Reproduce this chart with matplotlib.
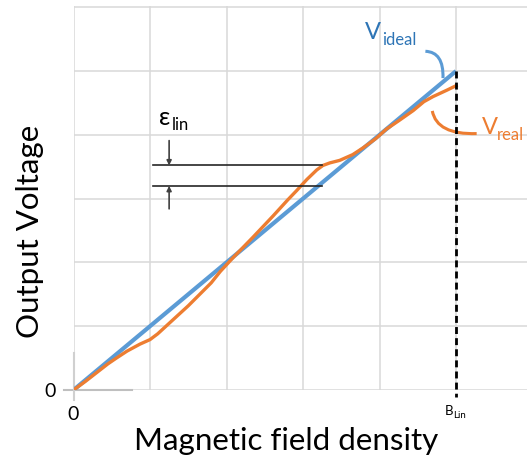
import matplotlib
matplotlib.use("Agg")
import matplotlib.pyplot as plt
from matplotlib.path import Path
from matplotlib.patches import PathPatch

plt.rcParams['font.family'] = ['Lato', 'DejaVu Sans']

W, H = 527, 461

# ideal characteristic: straight line up to B_Lin
ideal_x = [0, 5]
ideal_y = [0, 5]

# real sensor output
real_x = [0, 0.15, 0.3, 0.45, 0.56, 0.7, 0.87, 1.0, 1.1, 1.3, 1.5, 1.65, 1.8, 1.92,
          2.09, 2.35, 2.61, 2.8, 2.92, 3.05, 3.18, 3.26, 3.35, 3.48, 3.65, 3.79, 3.95,
          4.09, 4.25, 4.44, 4.58, 4.7, 4.88, 5.0]
real_y = [0, 0.13, 0.27, 0.41, 0.5, 0.61, 0.72, 0.79, 0.88, 1.1, 1.32, 1.5, 1.68, 1.86,
          2.08, 2.4, 2.73, 2.98, 3.13, 3.3, 3.45, 3.52, 3.56, 3.6, 3.69, 3.8, 3.94,
          4.09, 4.22, 4.38, 4.52, 4.6, 4.70, 4.77]

b_lin = 5
eps_top = 3.52
eps_bottom = 3.2
eps_x = [1.04, 3.25]

blue = '#5B9BD5'
blue_txt = '#2E75B6'
orange = '#ED7D31'


def px(x, y):
    # pixel position -> figure fraction
    return x / W, 1 - y / H


fig = plt.figure(figsize=(W / 100, H / 100), dpi=100)
left, bottom = px(73.5, 390)
right, top = px(527, 6)
ax = fig.add_axes([left, bottom, right - left, top - bottom])
ax.set_xlim(0, (527 - 73.5) / 76.5)
ax.set_ylim(0, 6.02)

for s in ax.spines.values():
    s.set_visible(False)
ax.set_xticks(range(0, 6))
ax.set_yticks(range(0, 7))
ax.tick_params(length=0, labelbottom=False, labelleft=False)
ax.grid(True, color='#d9d9d9', lw=1.1)
ax.set_axisbelow(True)

# short axis stubs at the origin
ax.plot([-0.125, 0.77], [0, 0], color='#bfbfbf', lw=1.5, clip_on=False)
ax.plot([0, 0], [-0.16, 0.58], color='#d0d0d0', lw=1.5, clip_on=False)

ax.plot(ideal_x, ideal_y, color=blue, lw=3, solid_capstyle='butt')
ax.plot(real_x, real_y, color=orange, lw=2.4, solid_joinstyle='round')

ax.plot([b_lin, b_lin], [ideal_y[-1], -0.11], color='black', lw=2,
        dashes=(2.5, 1.5), clip_on=False)

# linearity error marks
ax.plot(eps_x, [eps_top, eps_top], color='#262626', lw=1.2)
ax.plot(eps_x, [eps_bottom, eps_bottom], color='#262626', lw=1.2)
ax.annotate('', xy=(1.25, eps_top), xytext=(1.25, 3.91),
            arrowprops=dict(arrowstyle='-|>', color='#404040', lw=1.2, mutation_scale=7,
                            shrinkA=0, shrinkB=0))
ax.annotate('', xy=(1.25, eps_bottom), xytext=(1.25, 2.84),
            arrowprops=dict(arrowstyle='-|>', color='#404040', lw=1.2, mutation_scale=7,
                            shrinkA=0, shrinkB=0))

# callout arcs
blue_arc = Path([(4.60, 5.31), (4.84, 5.30), (4.83, 4.89)],
                [Path.MOVETO, Path.CURVE3, Path.CURVE3])
ax.add_patch(PathPatch(blue_arc, fill=False, edgecolor=blue, lw=2.2, clip_on=False))
orange_arc = Path([(4.69, 4.375), (4.75, 4.0), (5.27, 4.02)],
                  [Path.MOVETO, Path.CURVE3, Path.CURVE3])
ax.add_patch(PathPatch(orange_arc, fill=False, edgecolor=orange, lw=2.2, clip_on=False))

# labels
fig.text(*px(365, 39), 'V', color=blue_txt, fontsize=17, va='baseline')
fig.text(*px(382, 45), 'ideal', color=blue_txt, fontsize=12, va='baseline')
fig.text(*px(482, 134), 'V', color=orange, fontsize=17, va='baseline')
fig.text(*px(497, 140), 'real', color=orange, fontsize=12, va='baseline')
fig.text(*px(159, 125), 'ε', color='black', fontsize=18, va='baseline')
fig.text(*px(172, 130), 'lin', color='black', fontsize=12, va='baseline')

fig.text(*px(50, 391), '0', fontsize=14, ha='center', va='center')
fig.text(*px(73, 414), '0', fontsize=14, ha='center', va='center')
fig.text(*px(445, 415), 'B', fontsize=9.5, va='baseline')
fig.text(*px(453, 418), 'Lin', fontsize=7, va='baseline')

fig.text(*px(286, 441), 'Magnetic field density', fontsize=22.5, ha='center', va='center')
fig.text(*px(30, 231), 'Output Voltage', fontsize=22.5, ha='center', va='center',
         rotation=90)

fig.savefig('out.png', dpi=100)
